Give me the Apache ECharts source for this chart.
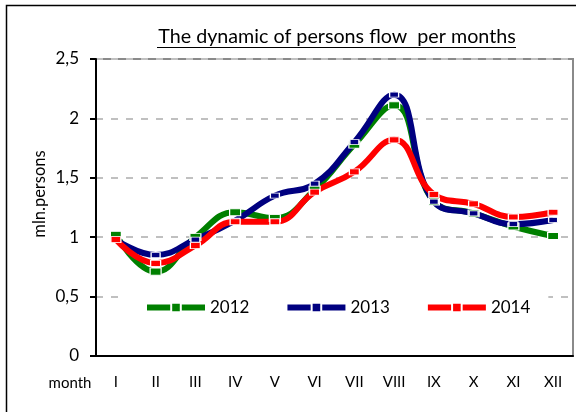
<!DOCTYPE html>
<html>
<head>
<meta charset="utf-8">
<script src="https://cdn.jsdelivr.net/npm/echarts@6/dist/echarts.min.js"></script>
<style>html,body{margin:0;padding:0;background:#fff}#c{width:576px;height:412px}</style>
</head>
<body>
<div id="c"></div>
<script>
var months = ['I','II','III','IV','V','VI','VII','VIII','IX','X','XI','XII'];
var yTicks = [0, 0.5, 1, 1.5, 2, 2.5];
var s2012 = [1.02, 0.71, 1.00, 1.21, 1.16, 1.40, 1.78, 2.11, 1.30, 1.20, 1.09, 1.01];
var s2013 = [0.98, 0.85, 0.98, 1.14, 1.35, 1.45, 1.80, 2.20, 1.30, 1.20, 1.11, 1.145];
var s2014 = [0.98, 0.78, 0.93, 1.13, 1.13, 1.38, 1.55, 1.82, 1.36, 1.28, 1.17, 1.21];
var FONT = 'Lato';

var chart = echarts.init(document.getElementById('c'), null, {renderer: 'canvas'});
function mk(name, data, color, sym) {
  return {
    name: name, type: 'line', data: data, smooth: 0.45,
    symbol: 'rect', symbolSize: sym,
    lineStyle: {color: color, width: 6},
    itemStyle: {color: color, borderColor: '#fff', borderWidth: 1},
    emphasis: {disabled: true}
  };
}
chart.setOption({
  animation: false,
  grid: {left: 96, right: 3, top: 59, bottom: 56, show: true, borderColor: '#8a8a8a', borderWidth: 2, backgroundColor: 'transparent'},
  legend: {
    left: 125, top: 290, itemWidth: 58, itemHeight: 12, itemGap: 35,
    backgroundColor: '#fff', padding: [9, 18, 7, 19],
    lineStyle: {width: 6},
    textStyle: {fontFamily: FONT, fontSize: 17, color: '#000'},
    data: ['2012', '2013', '2014']
  },
  xAxis: {
    type: 'category', data: months, boundaryGap: true,
    axisLine: {lineStyle: {color: '#000', width: 2}},
    axisTick: {length: 6, lineStyle: {color: '#000', width: 2}},
    axisLabel: {fontFamily: FONT, fontSize: 15, color: '#000', margin: 19}
  },
  yAxis: {
    type: 'value', min: yTicks[0], max: yTicks[yTicks.length-1], interval: 0.5,
    axisLine: {show: true, lineStyle: {color: '#000', width: 2}},
    axisTick: {show: true, length: 6, lineStyle: {color: '#000', width: 2}},
    axisLabel: {fontFamily: FONT, fontSize: 17, color: '#000', margin: 17,
      formatter: function (v) { return String(v).replace('.', ','); }},
    splitLine: {lineStyle: {color: '#c0c0c0', width: 2, type: [7, 8]}}
  },
  graphic: [
    {type: 'rect', shape: {x: 6.5, y: 5.5, width: 620, height: 440}, style: {fill: 'none', stroke: '#000', lineWidth: 1.5}, silent: true},
    {type: 'text', x: 337, y: 37, style: {text: 'The dynamic of persons flow  per months', fontFamily: FONT, fontSize: 19.7, fill: '#000', align: 'center', verticalAlign: 'middle'}},
    {type: 'line', shape: {x1: 157, y1: 47.5, x2: 516, y2: 47.5}, style: {stroke: '#000', lineWidth: 1.2}},
    {type: 'text', x: 70, y: 383, style: {text: 'month', fontFamily: FONT, fontSize: 15, fill: '#000', align: 'center', verticalAlign: 'middle'}},
    {type: 'text', x: 40, y: 194, rotation: Math.PI / 2, style: {text: 'mln.persons', fontFamily: FONT, fontSize: 16.5, fill: '#000', align: 'center', verticalAlign: 'middle'}}
  ],
  series: [
    mk('2012', s2012, '#008000', [11, 7]),
    mk('2013', s2013, '#000080', [9, 5]),
    mk('2014', s2014, '#ff0000', [10, 6])
  ]
});
</script>
</body>
</html>
